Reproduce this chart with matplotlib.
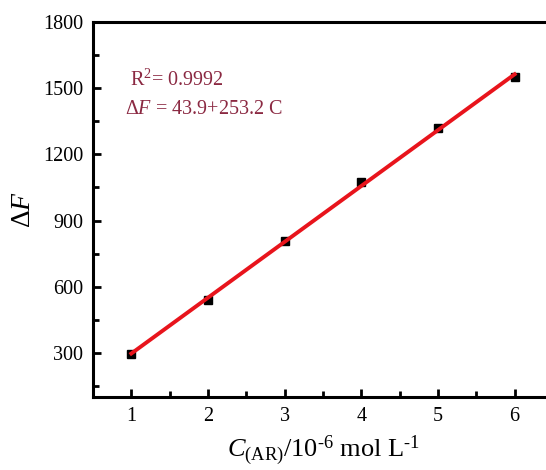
import matplotlib
matplotlib.use("Agg")
import matplotlib.pyplot as plt
from matplotlib.ticker import MultipleLocator

plt.rcParams['font.family'] = ['Liberation Serif', 'DejaVu Serif']
plt.rcParams['mathtext.fontset'] = 'custom'
plt.rcParams['mathtext.rm'] = 'Liberation Serif'
plt.rcParams['mathtext.it'] = 'Liberation Serif:italic'

conc = [1, 2, 3, 4, 5, 6]
delta_f = [297, 540, 805, 1075, 1318, 1550]
intercept = 43.9
slope = 253.2
r2_text = "R$^2$= 0.9992"
eq_text = r"$\Delta F$ = 43.9+253.2 C"

fig = plt.figure(figsize=(5.46, 4.70), dpi=100)
ax = fig.add_axes([0.1703, 0.1553, 1.0128 - 0.1703, 0.9532 - 0.1553])

fit_x = [conc[0], conc[-1]]
fit_y = [intercept + slope * v for v in fit_x]
ax.plot(conc, delta_f, 's', color='black', markersize=6, zorder=3)
ax.plot(fit_x, fit_y, '-', color='#e8141c', linewidth=2.8, zorder=4)

ax.set_xlim(0.5, 6.5)
ax.set_ylim(100, 1800)
ax.xaxis.set_major_locator(MultipleLocator(1))
ax.xaxis.set_minor_locator(MultipleLocator(0.5))
ax.yaxis.set_major_locator(MultipleLocator(300))
ax.yaxis.set_minor_locator(MultipleLocator(150))
ax.set_yticks([300, 600, 900, 1200, 1500, 1800])

for s in ax.spines.values():
    s.set_linewidth(2.2)
ax.tick_params(which='both', direction='in', width=2, labelsize=14.5, top=False, right=False)
ax.tick_params(which='major', length=6, pad=7)
ax.tick_params(which='minor', length=4)

ax.set_ylabel(r"$\Delta F$", fontsize=20, labelpad=5)
ax.set_xlabel("$C_{\\rm (AR)}$/10$^{\u20106}$ mol L$^{\u20101}$", fontsize=19, labelpad=6)

ax.text(0.08, 0.829, r2_text, transform=ax.transAxes, fontsize=14.5, color='#8b2942')
ax.text(0.07, 0.754, eq_text, transform=ax.transAxes, fontsize=14.5, color='#8b2942')

fig.savefig("out.png", dpi=100)
